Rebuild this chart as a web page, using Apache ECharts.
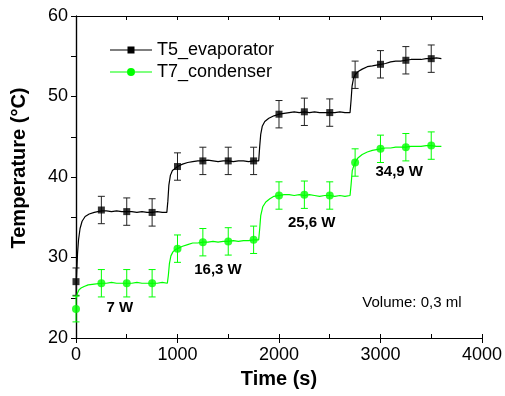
<!DOCTYPE html>
<html>
<head>
<meta charset="utf-8">
<script src="https://cdn.jsdelivr.net/npm/echarts@6/dist/echarts.min.js"></script>
<style>html,body{margin:0;padding:0;background:#fff;}#c{width:505px;height:396px;}</style>
</head>
<body>
<div id="c"></div>
<script>
// ---- data ----
const xTicks = [0, 1000, 2000, 3000, 4000];
const yTicks = [20, 30, 40, 50, 60];

const evapCurve = [
 [5,27.5],[15,30.5],[25,32.2],[40,33.6],[60,34.5],[90,35.1],[130,35.4],[180,35.6],[250,35.8],[300,35.8],
 [350,35.7],[400,35.8],[450,35.7],[500,35.7],[550,35.7],[600,35.6],[650,35.7],[700,35.6],[750,35.6],[800,35.7],
 [850,35.6],[895,35.6],[905,37.0],[915,39.0],[930,40.2],[950,40.8],[980,41.1],[1000,41.3],[1050,41.6],[1100,41.8],
 [1150,41.9],[1200,42.0],[1250,42.0],[1300,42.1],[1350,42.0],[1400,41.9],[1450,42.0],[1500,42.0],[1550,41.9],[1600,42.0],
 [1650,42.0],[1700,41.9],[1750,42.0],[1800,42.0],[1810,43.8],[1820,45.3],[1835,46.3],[1860,46.9],[1900,47.3],[1950,47.6],
 [2000,47.8],[2050,47.9],[2100,48.0],[2150,48.1],[2200,48.0],[2250,48.1],[2300,48.0],[2350,48.1],[2400,48.0],[2450,48.0],
 [2500,48.0],[2550,48.0],[2600,48.1],[2650,48.0],[2700,48.0],[2710,49.5],[2720,51.3],[2735,52.3],[2750,52.7],[2780,53.1],
 [2820,53.4],[2870,53.7],[2920,53.8],[3000,54.0],[3050,54.1],[3100,54.3],[3150,54.4],[3200,54.4],[3250,54.5],[3300,54.6],
 [3350,54.6],[3400,54.6],[3450,54.7],[3500,54.7],[3550,54.8],[3600,54.7]
];
const condCurve = [
 [5,25.0],[15,25.6],[30,26.0],[50,26.2],[80,26.4],[120,26.6],[180,26.7],[250,26.8],[300,26.8],[350,26.9],
 [400,26.8],[450,26.8],[500,26.8],[550,26.8],[600,26.9],[650,26.8],[700,26.8],[750,26.8],[800,26.8],[850,26.9],
 [900,26.8],[910,27.8],[920,29.2],[935,30.2],[955,30.7],[980,31.0],[1000,31.1],[1050,31.4],[1100,31.6],[1150,31.8],
 [1200,31.8],[1250,31.9],[1300,31.9],[1350,32.0],[1400,31.9],[1450,32.0],[1500,32.0],[1550,32.1],[1600,32.0],[1650,32.1],
 [1700,32.1],[1750,32.2],[1800,32.2],[1810,33.6],[1820,35.2],[1840,36.3],[1870,36.9],[1910,37.3],[1950,37.6],[2000,37.7],
 [2050,37.8],[2100,37.8],[2150,37.7],[2200,37.8],[2250,37.7],[2300,37.8],[2350,37.7],[2400,37.6],[2450,37.7],[2500,37.7],
 [2550,37.6],[2600,37.7],[2650,37.6],[2700,37.7],[2710,39.0],[2722,40.8],[2740,41.5],[2750,41.8],[2780,42.4],[2820,42.8],
 [2870,43.1],[2920,43.3],[3000,43.5],[3050,43.6],[3100,43.6],[3150,43.7],[3200,43.7],[3250,43.7],[3300,43.8],[3350,43.8],
 [3400,43.8],[3450,43.9],[3500,43.9],[3550,43.8],[3600,43.8]
];
const markerTimes = [0,250,500,750,1000,1250,1500,1750,2000,2250,2500,2750,3000,3250,3500];
const evapMarkers = [27.0,35.9,35.7,35.6,41.3,42.0,42.0,42.0,47.8,48.1,48.0,52.7,54.0,54.5,54.7];
const condMarkers = [23.6,26.8,26.8,26.8,31.1,31.9,32.0,32.2,37.7,37.8,37.7,41.8,43.5,43.7,43.9];
const evapErrors  = [1.7,1.7,1.7,1.7,1.7,1.7,1.7,1.7,1.7,1.7,1.7,1.7,1.7,1.7,1.7];
const condErrors  = [1.6,1.7,1.7,1.7,1.7,1.7,1.7,1.7,1.7,1.7,1.7,1.7,1.7,1.7,1.7];
const powerLabels = ['7 W','16,3 W','25,6 W','34,9 W'];
const powerLabelPos = [[433,23.8],[1399,28.45],[2322,34.3],[3185,40.6]];
const noteText = 'Volume: 0,3 ml';
const notePos = [3310,24.4];

// ---- chart ----
const BLACK = '#000000', GREEN = '#00ff00';
const FONT = '"Liberation Sans", Arial, sans-serif';
const chart = echarts.init(document.getElementById('c'), null, {renderer:'canvas'});

function zipM(vals, errs){ return markerTimes.map((t,i)=>[t, vals[i], errs[i]]); }

function errRender(color){
  return function(params, api){
    const x = api.value(0), y = api.value(1), e = api.value(2);
    const p1 = api.coord([x, y + e]);
    const p2 = api.coord([x, y - e]);
    const hw = 3.5;
    const st = {stroke: color, lineWidth: 1};
    return {type:'group', children:[
      {type:'line', shape:{x1:p1[0], y1:p1[1], x2:p2[0], y2:p2[1]}, style:st},
      {type:'line', shape:{x1:p1[0]-hw, y1:p1[1], x2:p1[0]+hw, y2:p1[1]}, style:st},
      {type:'line', shape:{x1:p2[0]-hw, y1:p2[1], x2:p2[0]+hw, y2:p2[1]}, style:st}
    ]};
  };
}

const axisLine = {show:true, lineStyle:{color:BLACK, width:1.2}};

const option = {
  animation:false,
  backgroundColor:'#fff',
  grid: {left:76, right:23, top:16, bottom:58, containLabel:false},
  legend: {
    orient:'vertical', left:110, top:41, padding:0, itemGap:4,
    itemWidth:42, itemHeight:8,
    textStyle:{fontFamily:FONT, fontSize:18, color:BLACK},
    data:[
      {name:'T5_evaporator', icon:'path://M0,3.5H17.5V4.5H0Z M17.5,0.5H24.5V7.5H17.5Z M24.5,3.5H42V4.5H24.5Z'},
      {name:'T7_condenser', icon:'path://M0,3.5H17V4.5H0Z M25,3.5H42V4.5H25Z M17,4A4,4 0 1,1 25,4A4,4 0 1,1 17,4Z'}
    ],
    selectedMode:false
  },
  xAxis: [
    {type:'value', min:xTicks[0], max:xTicks[xTicks.length-1], interval:1000, position:'bottom',
     axisLine: axisLine,
     axisTick:{show:true, inside:false, length:5, lineStyle:{color:BLACK, width:1}},
     axisLabel:{show:true, margin:8, fontFamily:FONT, fontSize:18, color:BLACK, formatter:v=>String(v)},
     splitLine:{show:false},
     name:'Time (s)', nameLocation:'middle', nameGap:31,
     nameTextStyle:{fontFamily:FONT, fontSize:20, fontWeight:'bold', color:BLACK}},
    {type:'value', min:xTicks[0], max:xTicks[xTicks.length-1], interval:1000, position:'bottom',
     axisLine: axisLine,
     axisTick:{show:true, inside:true, length:4, lineStyle:{color:BLACK, width:1}},
     minorTick:{show:true, splitNumber:2, length:4, lineStyle:{color:BLACK, width:1}},
     axisLabel:{show:false}, splitLine:{show:false}},
    {type:'value', min:xTicks[0], max:xTicks[xTicks.length-1], interval:1000, position:'top',
     axisLine: axisLine,
     axisTick:{show:true, inside:true, length:4, lineStyle:{color:BLACK, width:1}},
     minorTick:{show:true, splitNumber:2, length:4, lineStyle:{color:BLACK, width:1}},
     axisLabel:{show:false}, splitLine:{show:false}}
  ],
  yAxis: [
    {type:'value', min:yTicks[0], max:yTicks[yTicks.length-1], interval:10, position:'left',
     axisLine: axisLine,
     axisTick:{show:true, inside:false, length:5, lineStyle:{color:BLACK, width:1}},
     minorTick:{show:true, splitNumber:2, length:5, lineStyle:{color:BLACK, width:1}},
     axisLabel:{show:true, margin:8, fontFamily:FONT, fontSize:18, color:BLACK, formatter:v=>String(v)},
     splitLine:{show:false}, minorSplitLine:{show:false},
     name:'Temperature (°C)', nameLocation:'middle', nameGap:47,
     nameTextStyle:{fontFamily:FONT, fontSize:20, fontWeight:'bold', color:BLACK, padding:[0,0,0,18]}},
    {type:'value', min:yTicks[0], max:yTicks[yTicks.length-1], interval:10, position:'right',
     axisLine: axisLine,
     axisTick:{show:true, inside:true, length:4, lineStyle:{color:BLACK, width:1}},
     minorTick:{show:true, splitNumber:2, length:4, lineStyle:{color:BLACK, width:1}},
     axisLabel:{show:false}, splitLine:{show:false}}
  ],
  series: [
    {type:'custom', name:'evapErr', renderItem: errRender('#222'), data: zipM(evapMarkers, evapErrors),
     encode:{x:0, y:1}, silent:true, z:2},
    {type:'custom', name:'condErr', renderItem: errRender(GREEN), data: zipM(condMarkers, condErrors),
     encode:{x:0, y:1}, silent:true, z:2},
    {type:'line', name:'T5_evaporator', data: evapCurve, showSymbol:false, symbol:'none',
     lineStyle:{color:BLACK, width:1.2}, itemStyle:{color:BLACK}, z:3},
    {type:'line', name:'T7_condenser', data: condCurve, showSymbol:false, symbol:'none',
     lineStyle:{color:GREEN, width:1.2}, itemStyle:{color:GREEN}, z:3},
    {type:'scatter', name:'evapM', data: markerTimes.map((t,i)=>[t, evapMarkers[i]]),
     symbol:'rect', symbolSize:7, itemStyle:{color:BLACK}, z:4},
    {type:'scatter', name:'condM', data: markerTimes.map((t,i)=>[t, condMarkers[i]]),
     symbol:'circle', symbolSize:8, itemStyle:{color:GREEN}, z:4}
  ]
};
chart.setOption(option);

// annotations placed through the chart's own scales
const texts = powerLabels.map((s,i)=>({s:s, p:powerLabelPos[i], bold:true}))
  .concat([{s:noteText, p:notePos, bold:false}]);
chart.setOption({
  graphic: texts.map(o=>{
    const px = chart.convertToPixel({xAxisIndex:0, yAxisIndex:0}, o.p);
    return {type:'text', x:px[0], y:px[1], z:10, silent:true,
      style:{text:o.s, fill:BLACK, font:(o.bold?'bold ':'')+'15px '+FONT, textAlign:'center', textVerticalAlign:'middle'}};
  })
});
</script>
</body>
</html>
